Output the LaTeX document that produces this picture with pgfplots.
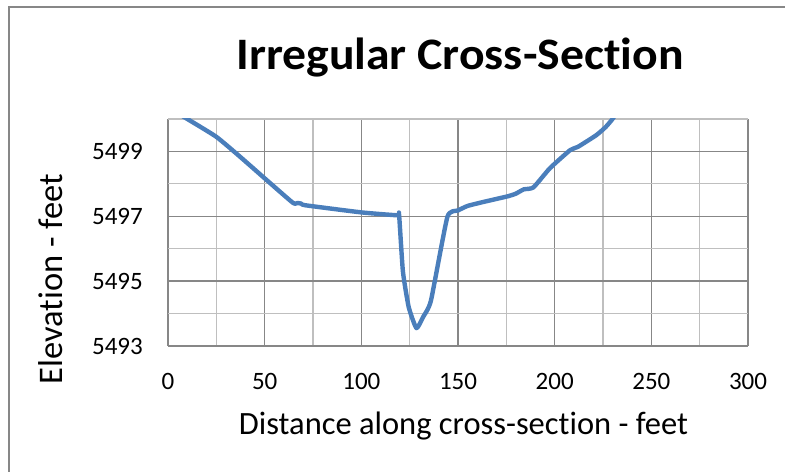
\documentclass[border=0pt]{standalone}
\usepackage{pgfplots}
\pgfplotsset{compat=1.18}
\usepackage{fontspec}
\setmainfont{Carlito}[Ligatures=NoCommon]
\newfontfamily\titlefont{Carlito}[FakeStretch=1.06,Ligatures=NoCommon]
\definecolor{linec}{HTML}{4A7EBB}
\definecolor{majg}{HTML}{878787}
\definecolor{ming}{HTML}{BFBFBF}
\begin{document}
\begin{tikzpicture}[x=1bp,y=1bp]
\useasboundingbox (0,0) rectangle (785,472);
\draw[majg, line width=2bp] (8.5,0) -- (8.5,465);
\draw[majg, line width=1.2bp] (8,465) -- (785,465);
\begin{axis}[
  at={(168bp,126bp)}, anchor=south west, scale only axis,
  width=580bp, height=227bp,
  xmin=0, xmax=300, ymin=5493, ymax=5500,
  xtick={0,50,100,150,200,250,300},
  xticklabels={0,50,100,150,200,250,300},
  minor xtick={25,75,125,175,225,275},
  ytick={5493,5495,5497,5499},
  yticklabels={5493,5495,5497,5499},
  minor ytick={5494,5496,5498,5500},
  grid=both,
  major grid style={draw=majg, line width=1.3bp},
  minor grid style={draw=ming, line width=1.3bp},
  axis line style={draw=none},
  major tick length=0pt, minor tick length=0pt,
  tick style={draw=none},
  ticklabel style={font=\fontsize{25bp}{30bp}\selectfont, inner sep=0pt},
  xticklabel style={anchor=base, yshift=-44bp},
  yticklabel style={anchor=east, xshift=-25bp},
]
\addplot[linec, line width=4.4bp, smooth, tension=0.3, line join=round] coordinates {
(0,5500.35) (10,5500.0) (25,5499.45) (37,5498.85) (50,5498.17)
(64.5,5497.42) (67,5497.41) (69,5497.39) (71,5497.34) (100,5497.12)
(118.5,5497.03) (119.5,5497.06) (121.5,5495.3) (124.5,5494.2) (128.5,5493.55)
(132,5493.9) (136,5494.4) (144.5,5496.98) (150,5497.18) (155,5497.32)
(163,5497.44) (176,5497.62) (180,5497.70) (184,5497.83) (189,5497.89)
(197.5,5498.48) (208,5499.04) (212,5499.14) (221.5,5499.50) (226.5,5499.76)
(230.5,5500.05) (234,5500.5)
};
\end{axis}
\node[anchor=base, inner sep=0pt] at (460,402.5) {\titlefont\bfseries\fontsize{45bp}{48bp}\selectfont Irregular Cross-Section};
\node[anchor=base, inner sep=0pt] at (463.5,37.7) {\fontsize{32.5bp}{36bp}\selectfont Distance along cross-section - feet};
\node[anchor=base, inner sep=0pt, rotate=90] at (62,193) {\fontsize{34.5bp}{38bp}\selectfont Elevation - feet};
\end{tikzpicture}
\end{document}
